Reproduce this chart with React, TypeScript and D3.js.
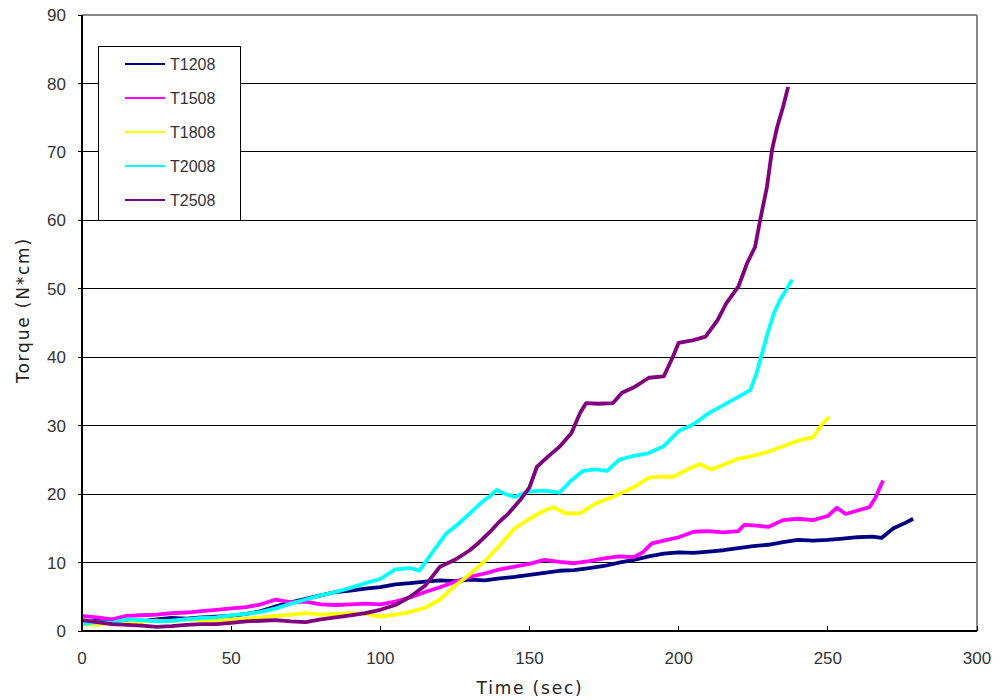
import React from "react";
import * as d3 from "d3";

// [time (sec), torque (N*cm)]
const t1208: [number, number][] = [
  [0, 1.2], [5, 1.5], [10, 1.3], [15, 1.6], [20, 1.4], [25, 1.7], [30, 1.9], [35, 1.8], [40, 2.0], [45, 2.1],
  [50, 2.2], [55, 2.5], [60, 2.9], [65, 3.6], [70, 4.2], [75, 4.7], [80, 5.2], [85, 5.7], [90, 5.9], [95, 6.2],
  [100, 6.4], [105, 6.8], [110, 7.0], [115, 7.2], [120, 7.4], [125, 7.3], [130, 7.5], [135, 7.4], [140, 7.7],
  [145, 7.9], [150, 8.2], [155, 8.5], [160, 8.8], [165, 8.9], [170, 9.2], [175, 9.5], [180, 10.0], [185, 10.4],
  [190, 10.9], [195, 11.3], [200, 11.5], [205, 11.4], [210, 11.6], [215, 11.8], [220, 12.1], [225, 12.4],
  [230, 12.6], [235, 13.0], [240, 13.3], [245, 13.2], [250, 13.3], [255, 13.5], [260, 13.7], [265, 13.8],
  [268, 13.6], [272, 15.0], [276, 15.8], [278.6, 16.4],
];
const t1508: [number, number][] = [
  [0, 2.2], [5, 2.0], [10, 1.7], [15, 2.2], [20, 2.3], [25, 2.4], [30, 2.6], [35, 2.7], [40, 2.9], [45, 3.1],
  [50, 3.3], [55, 3.5], [60, 3.9], [65, 4.6], [70, 4.2], [75, 4.3], [80, 3.9], [85, 3.8], [90, 3.9], [95, 4.0],
  [100, 3.9], [105, 4.3], [110, 4.9], [115, 5.7], [120, 6.4], [125, 7.2], [130, 7.9], [135, 8.4], [140, 9.0],
  [145, 9.4], [150, 9.8], [155, 10.4], [160, 10.1], [165, 9.9], [170, 10.2], [175, 10.6], [180, 10.9],
  [185, 10.8], [188, 11.5], [191, 12.8], [195, 13.2], [200, 13.7], [205, 14.5], [210, 14.6], [215, 14.4],
  [220, 14.6], [222, 15.5], [226, 15.4], [230, 15.2], [235, 16.2], [240, 16.4], [245, 16.2], [250, 16.8],
  [253, 18.0], [256, 17.1], [260, 17.6], [264, 18.1], [266, 19.5], [268.5, 22.0],
];
const t1808: [number, number][] = [
  [0, 1.0], [5, 0.9], [10, 1.2], [15, 1.1], [20, 1.4], [25, 1.5], [30, 1.4], [35, 1.7], [40, 1.6], [45, 1.5],
  [50, 1.7], [55, 1.8], [60, 2.0], [65, 2.2], [70, 2.4], [75, 2.6], [80, 2.4], [85, 2.5], [90, 2.6], [95, 2.5],
  [100, 2.1], [105, 2.4], [110, 2.8], [115, 3.4], [120, 4.6], [125, 6.6], [130, 8.3], [135, 10.2], [140, 12.5],
  [145, 15.0], [150, 16.4], [155, 17.6], [158, 18.1], [162, 17.2], [167, 17.2], [172, 18.6], [178, 19.6],
  [185, 21.0], [190, 22.4], [195, 22.6], [198, 22.5], [203, 23.6], [207, 24.4], [211, 23.6], [215, 24.3],
  [220, 25.2], [225, 25.6], [230, 26.2], [235, 27.0], [240, 27.8], [245, 28.3], [248, 30.2], [250.5, 31.3],
];
const t2008: [number, number][] = [
  [0, 1.0], [5, 1.3], [10, 1.2], [15, 1.7], [20, 1.6], [25, 1.4], [30, 1.5], [35, 1.7], [40, 1.9], [45, 2.0],
  [50, 2.3], [55, 2.5], [60, 2.8], [65, 3.3], [70, 4.0], [75, 4.6], [80, 5.2], [85, 5.7], [90, 6.3], [95, 7.0],
  [100, 7.6], [105, 9.0], [110, 9.2], [113, 8.8], [118, 11.8], [122, 14.2], [126, 15.6], [130, 17.2],
  [134, 18.8], [137, 19.8], [139, 20.6], [142, 20.0], [145, 19.6], [150, 20.4], [155, 20.5], [160, 20.2],
  [164, 22.0], [168, 23.4], [172, 23.6], [176, 23.4], [180, 25.0], [185, 25.6], [190, 26.0], [195, 27.0],
  [200, 29.2], [205, 30.2], [210, 31.8], [215, 33.0], [220, 34.2], [224, 35.2], [226, 37.5], [228, 40.6],
  [230, 43.8], [232, 46.5], [234, 48.4], [236, 49.8], [238, 51.3],
];
const t2508: [number, number][] = [
  [0, 1.6], [5, 1.3], [10, 1.0], [15, 0.9], [20, 0.8], [25, 0.6], [30, 0.7], [35, 0.9], [40, 1.0], [45, 1.0],
  [50, 1.2], [55, 1.4], [60, 1.5], [65, 1.6], [70, 1.4], [75, 1.3], [80, 1.7], [85, 2.0], [90, 2.3], [95, 2.6],
  [100, 3.1], [105, 3.8], [110, 5.0], [115, 6.6], [120, 9.4], [125, 10.4], [130, 11.8], [133, 12.9],
  [137, 14.6], [140, 16.0], [143, 17.2], [147, 19.2], [150, 21.0], [152.5, 24.0], [156, 25.4], [160, 26.9],
  [164, 28.9], [167, 31.9], [169, 33.3], [173, 33.2], [178, 33.3], [181, 34.8], [185, 35.6], [190, 37.0],
  [195, 37.2], [198, 40.0], [200, 42.1], [205, 42.5], [209, 43.0], [213, 45.4], [216, 47.9], [220, 50.3],
  [223, 53.8], [225.6, 56.1], [227.3, 60.0], [229.6, 64.9], [231.3, 70.3], [233, 73.6], [235, 76.6],
  [236.7, 79.5],
];

const seriesNames = ["T1208", "T1508", "T1808", "T2008", "T2508"];
const seriesColors = ["#000080", "#ff00ff", "#ffff00", "#00ffff", "#800080"];
const seriesData = [t1208, t1508, t1808, t2008, t2508];

const xTicks = [0, 50, 100, 150, 200, 250, 300];
const yTicks = [0, 10, 20, 30, 40, 50, 60, 70, 80, 90];

const width = 1000;
const height = 700;
const margin = { top: 15, right: 23, bottom: 69, left: 82 };

export default function App() {
  const innerW = width - margin.left - margin.right;
  const innerH = height - margin.top - margin.bottom;
  const x = d3.scaleLinear().domain([0, 300]).range([margin.left, margin.left + innerW]);
  const y = d3.scaleLinear().domain([0, 90]).range([margin.top + innerH, margin.top]);
  const line = d3.line<[number, number]>().x(d => x(d[0])).y(d => y(d[1]));

  const tickFont = { fontFamily: "Liberation Sans, Arial, sans-serif", fontSize: 17, fill: "#333" };
  const titleFont = { fontFamily: "DejaVu Sans, sans-serif", fontSize: 17, fill: "#222", letterSpacing: 1.8 };

  return (
    <svg width={width} height={height} style={{ position: "absolute", left: 0, top: 0, background: "#fff" }}>
      {/* grid */}
      {yTicks.filter(t => t > 0 && t < 90).map(t => (
        <line key={"g" + t} x1={x(0)} x2={x(300)} y1={y(t)} y2={y(t)} stroke="#000" strokeWidth={1} shapeRendering="crispEdges" />
      ))}
      {/* frame */}
      <line x1={x(0)} x2={x(300)} y1={y(90)} y2={y(90)} stroke="#888" strokeWidth={1.5} shapeRendering="crispEdges" />
      <line x1={x(300)} x2={x(300)} y1={y(90)} y2={y(0)} stroke="#888" strokeWidth={1.5} shapeRendering="crispEdges" />

      {/* series */}
      {seriesData.map((d, i) => (
        <path key={seriesNames[i]} d={line(d) || ""} fill="none" stroke={seriesColors[i]} strokeWidth={3.8} strokeLinejoin="round" />
      ))}

      {/* axes */}
      <line x1={x(0)} x2={x(0)} y1={y(90)} y2={y(0)} stroke="#000" strokeWidth={1.5} shapeRendering="crispEdges" />
      <line x1={x(0)} x2={x(300)} y1={y(0)} y2={y(0)} stroke="#000" strokeWidth={1.5} shapeRendering="crispEdges" />
      {yTicks.map(t => (
        <g key={"y" + t}>
          <line x1={x(0) - 4} x2={x(0)} y1={y(t)} y2={y(t)} stroke="#000" shapeRendering="crispEdges" />
          <text x={66} y={y(t)} dy="0.36em" textAnchor="end" style={tickFont}>{t}</text>
        </g>
      ))}
      {xTicks.map(t => (
        <g key={"x" + t}>
          <line x1={x(t)} x2={x(t)} y1={y(0)} y2={y(0) - 5} stroke="#000" shapeRendering="crispEdges" />
          <text x={x(t)} y={664} textAnchor="middle" style={tickFont}>{t}</text>
        </g>
      ))}

      <text x={530} y={694} textAnchor="middle" style={titleFont}>Time (sec)</text>
      <text transform={`translate(29, 310) rotate(-90)`} textAnchor="middle" style={titleFont}>Torque (N*cm)</text>

      {/* legend */}
      <rect x={98.5} y={46.5} width={142} height={174} fill="#fff" stroke="#000" strokeWidth={1} />
      {seriesNames.map((n, i) => (
        <g key={"l" + n}>
          <line x1={125} x2={165} y1={64 + i * 34} y2={64 + i * 34} stroke={seriesColors[i]} strokeWidth={2} />
          <text x={170} y={64 + i * 34} dy="0.36em" style={{ ...tickFont, fontSize: 16 }}>{n}</text>
        </g>
      ))}
    </svg>
  );
}
